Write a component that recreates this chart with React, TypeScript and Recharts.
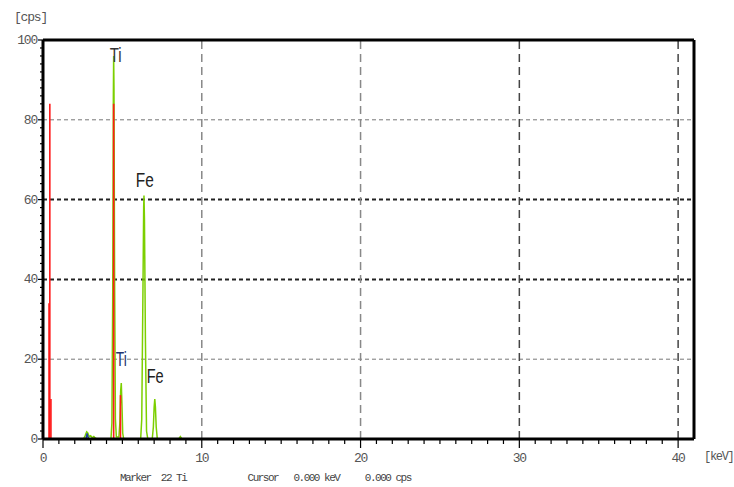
import React from 'react';
import { ComposedChart, Line, XAxis, YAxis, ReferenceLine, ReferenceDot } from 'recharts';

// Green spectrum (keV, cps)
const spectrumKeV = [0, 2.55, 2.65, 2.75, 2.82, 2.9, 3.0, 3.1, 3.2, 3.3, 3.4, 4.28, 4.34, 4.39, 4.43, 4.45, 4.47, 4.51, 4.56, 4.62, 4.78, 4.84, 4.89, 4.93, 4.97, 5.02, 5.08, 6.15, 6.22, 6.29, 6.34, 6.36, 6.39, 6.45, 6.52, 6.6, 6.88, 6.95, 7.0, 7.04, 7.08, 7.13, 7.2, 8.55, 8.65, 8.75, 41];
const spectrumCps = [0, 0, 0.8, 1.8, 1.5, 0.6, 0.8, 0.3, 0.6, 0.2, 0, 0, 4, 35, 85, 96, 88, 40, 5, 0.5, 0.5, 4, 12, 14, 9, 1.5, 0, 0, 5, 35, 58, 61, 55, 25, 2, 0, 0, 3, 8, 10, 8, 3, 0, 0, 0.6, 0, 0];

// Small blue overlay
const blueKeV = [2.7, 2.78, 2.86];
const blueCps = [0, 1.4, 0];

// Red KLM markers
const markerKeV = [0.38, 0.43, 0.5, 4.45, 4.88];
const markerCps = [34, 84, 10, 84, 11];

// Peak labels
const labelText = ['Ti', 'Fe', 'Ti', 'Fe'];
const labelKeV = [4.2, 5.84, 4.58, 6.53];
const labelCps = [94.5, 63.2, 18.3, 14];
const labelColor = ['#333333', '#222222', '#22336e', '#222222'];
const labelWidth = [12, 18, 11, 17];

const xTicks = Array.from({ length: 41 }, (_, i) => i);
const yTicks = Array.from({ length: 51 }, (_, i) => i * 2);

const spectrum = spectrumKeV.map((k, i) => ({ keV: k, cps: spectrumCps[i] }));
const blue = blueKeV.map((k, i) => ({ keV: k, cps: blueCps[i] }));

const tickFont = "'Liberation Mono', 'DejaVu Sans Mono', monospace";

const XTick = (props: any) => {
  const { x, y, payload } = props;
  const v = payload.value;
  const major = v % 10 === 0;
  return (
    <g>
      <line x1={x} x2={x} y1={y} y2={y + (major ? 9 : 5)} stroke="#000" strokeWidth={1.2} />
      {major && (
        <text x={x} y={y + 23} textAnchor="middle" fontFamily={tickFont} fontSize={13} letterSpacing={-1.2} fill="#555">
          {v}
        </text>
      )}
    </g>
  );
};

const YTick = (props: any) => {
  const { x, y, payload } = props;
  const v = payload.value;
  const major = v % 20 === 0;
  return (
    <g>
      <line x1={x} x2={x - (major ? 5 : 3)} y1={y} y2={y} stroke="#000" strokeWidth={1.2} />
      {major && (
        <text x={x - 6} y={y + 4} textAnchor="end" fontFamily={tickFont} fontSize={13} letterSpacing={-1.2} fill="#555">
          {v}
        </text>
      )}
    </g>
  );
};

const makeLabel = (i: number) => (p: any) => {
  const vb = p.viewBox || {};
  return (
    <text
      x={vb.x}
      y={vb.y}
      fontFamily="'Liberation Sans', Arial, sans-serif"
      fontSize={20}
      textLength={labelWidth[i]}
      lengthAdjust="spacingAndGlyphs"
      fill={labelColor[i]}
    >
      {labelText[i]}
    </text>
  );
};

export default function App() {
  return (
    <div style={{ position: 'absolute', left: 0, top: 0, width: 734, height: 487, background: '#fff' }}>
      <ComposedChart width={734} height={487} margin={{ top: 40, right: 40, bottom: 18, left: 0 }}>
        <XAxis
          dataKey="keV"
          type="number"
          domain={[0, 41]}
          ticks={xTicks}
          interval={0}
          allowDataOverflow
          height={30}
          tickSize={0}
          tickMargin={0}
          tickLine={false}
          tick={XTick}
          axisLine={{ stroke: '#000', strokeWidth: 3 }}
        />
        <YAxis
          type="number"
          domain={[0, 100]}
          ticks={yTicks}
          interval={0}
          allowDataOverflow
          width={43}
          tickSize={0}
          tickMargin={0}
          tickLine={false}
          tick={YTick}
          axisLine={{ stroke: '#000', strokeWidth: 3 }}
        />
        <ReferenceLine y={20} stroke="#777" strokeWidth={1} strokeDasharray="4 3" />
        <ReferenceLine y={80} stroke="#777" strokeWidth={1} strokeDasharray="4 3" />
        <ReferenceLine y={40} stroke="#222" strokeWidth={2} strokeDasharray="4 3" />
        <ReferenceLine y={60} stroke="#222" strokeWidth={2} strokeDasharray="4 3" />
        <ReferenceLine x={10} stroke="#888" strokeWidth={1.5} strokeDasharray="8 5" />
        <ReferenceLine x={20} stroke="#888" strokeWidth={1.5} strokeDasharray="8 5" />
        <ReferenceLine x={30} stroke="#444" strokeWidth={1.5} strokeDasharray="8 5" />
        <ReferenceLine x={40} stroke="#444" strokeWidth={1.5} strokeDasharray="8 5" />
        <ReferenceLine y={100} stroke="#000" strokeWidth={3} />
        <ReferenceLine x={41} stroke="#000" strokeWidth={3} />
        <Line data={spectrum} dataKey="cps" type="linear" stroke="#7ccf00" strokeWidth={1.5} dot={false} isAnimationActive={false} />
        <Line data={blue} dataKey="cps" type="linear" stroke="#2040a0" strokeWidth={1.5} dot={false} isAnimationActive={false} />
        {markerKeV.map((k, i) => (
          <ReferenceLine
            key={'m' + i}
            segment={[{ x: k, y: 0 }, { x: k, y: markerCps[i] }]}
            stroke="#ff1a1a"
            strokeWidth={1.6}
          />
        ))}
        {labelText.map((t, i) => (
          <ReferenceDot key={'l' + i} x={labelKeV[i]} y={labelCps[i]} r={0} stroke="none" fill="none" label={makeLabel(i)} />
        ))}
      </ComposedChart>
      <div style={{ position: 'absolute', left: 14, top: 10, fontFamily: tickFont, fontSize: 13, letterSpacing: -1.2, color: '#555', whiteSpace: 'pre' }}>[cps]</div>
      <div style={{ position: 'absolute', left: 704, top: 450, width: 30, fontFamily: tickFont, fontSize: 12, letterSpacing: -1.3, color: '#555', whiteSpace: 'pre' }}>[keV]</div>
      <div style={{ position: 'absolute', left: 120, top: 472, fontFamily: tickFont, fontSize: 11, letterSpacing: -1.5, color: '#444', whiteSpace: 'pre' }}>
        {'Marker  22 Ti            Cursor   0.000 keV     0.000 cps'}
      </div>
    </div>
  );
}
